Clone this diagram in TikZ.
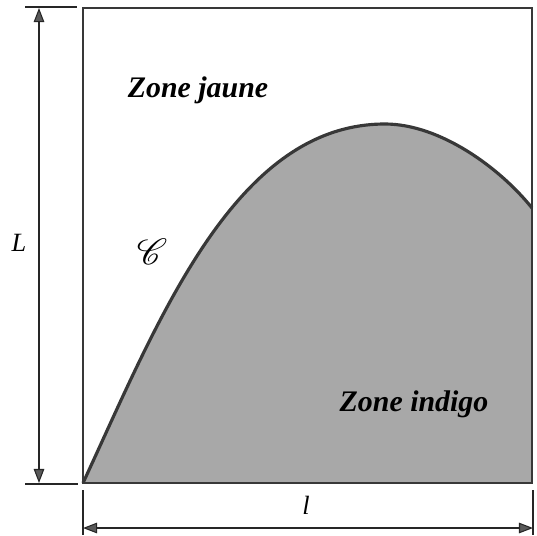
\documentclass[tikz,border=0pt]{standalone}
\usepackage{fontspec}
\setmainfont{Liberation Serif}
\usepackage{mathrsfs}
\usetikzlibrary{arrows.meta}
\definecolor{zonegray}{gray}{0.66}
\definecolor{edgegray}{gray}{0.22}
\tikzset{
  border/.style={draw=edgegray, line width=1.6pt},
  extline/.style={draw=black!85, line width=0.9pt},
  dimline/.style={draw=black!85, line width=0.6pt,
    {Triangle[length=8pt,width=6pt,fill=black!65]}-{Triangle[length=8pt,width=6pt,fill=black!65]}},
  zonelabel/.style={font=\fontsize{17}{20}\selectfont\bfseries\itshape, inner sep=0pt},
  dimlabel/.style={font=\fontsize{15}{18}\selectfont\itshape, inner sep=0pt},
  curveline/.style={draw=edgegray, line width=1.8pt}
}
\begin{document}
\begin{tikzpicture}[x=0.02cm, y=-0.02cm]
\useasboundingbox (0,0) rectangle (537,535);
% corners
\coordinate (TL) at (83,8);
\coordinate (TR) at (532,8);
\coordinate (BL) at (83,483);
\coordinate (BR) at (532,483);
\coordinate (PK) at (385,124);
\coordinate (CE) at (532,208);
% grey zone
\fill[zonegray] (BL) .. controls (159,319) and (235,124) .. (PK)
  .. controls (440,124) and (500,168) .. (CE) -- (BR) -- cycle;
% curve
\draw[curveline] (BL) .. controls (159,319) and (235,124) .. (PK)
  .. controls (440,124) and (500,168) .. (CE);
% frame
\draw[border] (TL) -- (TR) -- (BR) -- (BL) -- cycle;
% extension lines
\coordinate (e1a) at (25,7);  \coordinate (e1b) at (77,7);
\coordinate (e2a) at (25,484); \coordinate (e2b) at (78,484);
\coordinate (e3a) at (83,490); \coordinate (e3b) at (83,535);
\coordinate (e4a) at (533,490); \coordinate (e4b) at (533,535);
\draw[extline] (e1a) -- (e1b);
\draw[extline] (e2a) -- (e2b);
\draw[extline] (e3a) -- (e3b);
\draw[extline] (e4a) -- (e4b);
% dimension arrows
\coordinate (vA) at (39,8);  \coordinate (vB) at (39,483);
\coordinate (hA) at (83,528); \coordinate (hB) at (533,528);
\draw[dimline] (vA) -- (vB);
\draw[dimline] (hA) -- (hB);
% labels
\node[dimlabel] (Llab) at (19,243) {L};
\node[dimlabel] (llab) at (306,505) {l};
\node[zonelabel] (jaune) at (198,90) {Zone jaune};
\node[zonelabel] (indigo) at (414,404) {Zone indigo};
\node[inner sep=0pt, font=\fontsize{20}{22}\selectfont] (C) at (152,252) {$\mathscr{C}$};
\end{tikzpicture}
\end{document}
